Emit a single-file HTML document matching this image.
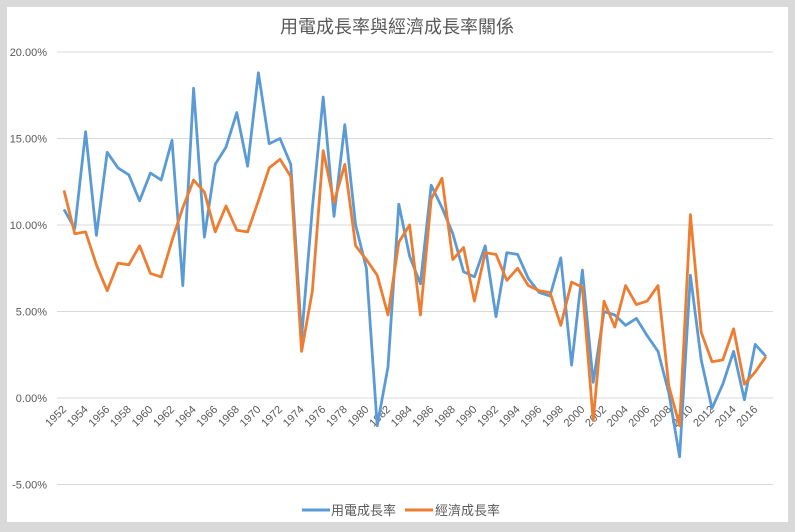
<!DOCTYPE html>
<html><head><meta charset="utf-8"><style>
body{margin:0;background:#d9d9d9;}
svg{display:block;font-family:"Liberation Sans","Noto Sans CJK TC",sans-serif;}
</style></head><body>
<svg width="795" height="532">
<rect x="7" y="7" width="781" height="515" fill="#fff"/>
<text x="397" y="33" text-anchor="middle" font-size="18" fill="#595959">用電成長率與經濟成長率關係</text>
<g id="grid"></g><g id="xlabels"></g><g id="series"></g>
<g>
<g><line x1="302" y1="510" x2="330" y2="510" stroke="#5b9bd5" stroke-width="3"/><text x="331" y="515" font-size="13" fill="#595959">用電成長率</text></g>
<g><line x1="405" y1="510" x2="433" y2="510" stroke="#ed7d31" stroke-width="3"/><text x="435" y="515" font-size="13" fill="#595959">經濟成長率</text></g>
</g>
</svg>
<script>
const years=[];for(let y=1952;y<=2017;y++)years.push(y);
const electricity=[10.9,9.8,15.4,9.4,14.2,13.3,12.9,11.4,13.0,12.6,14.9,6.5,17.9,9.3,13.5,14.5,16.5,13.4,18.8,14.7,15.0,13.5,3.5,11.0,17.4,10.5,15.8,10.0,7.5,-1.6,1.8,11.2,8.2,6.6,12.3,11.0,9.5,7.3,7.0,8.8,4.7,8.4,8.3,6.9,6.1,5.9,8.1,1.9,7.4,0.9,5.0,4.8,4.2,4.6,3.6,2.7,0.3,-3.4,7.1,2.2,-0.6,0.8,2.7,-0.1,3.1,2.4];
const economy=[12.0,9.5,9.6,7.7,6.2,7.8,7.7,8.8,7.2,7.0,9.1,11.0,12.6,11.9,9.6,11.1,9.7,9.6,11.4,13.3,13.8,12.8,2.7,6.2,14.3,11.3,13.5,8.8,8.0,7.1,4.8,9.0,10.0,4.8,11.5,12.7,8.0,8.7,5.6,8.4,8.3,6.8,7.5,6.5,6.2,6.1,4.2,6.7,6.4,-1.3,5.6,4.1,6.5,5.4,5.6,6.5,0.7,-1.6,10.6,3.8,2.1,2.2,4.0,0.8,1.5,2.4];
const yTicks=[20,15,10,5,0,-5];
const yTickLabels=["20.00%","15.00%","10.00%","5.00%","0.00%","-5.00%"];
const NS="http://www.w3.org/2000/svg";
const x=i=>64+i*(702/65);
const y=v=>398-v*17.3;
const grid=document.getElementById('grid');
yTicks.forEach((t,k)=>{
 const l=document.createElementNS(NS,'line');
 l.setAttribute('x1',57);l.setAttribute('x2',773);l.setAttribute('y1',y(t));l.setAttribute('y2',y(t));
 l.setAttribute('stroke','#d9d9d9');l.setAttribute('stroke-width','1');
 
 
 grid.appendChild(l);
 const tx=document.createElementNS(NS,'text');
 tx.setAttribute('x',47);tx.setAttribute('y',y(t)+4);tx.setAttribute('text-anchor','end');
 tx.setAttribute('font-size','11');tx.setAttribute('fill','#595959');tx.textContent=yTickLabels[k];
 
 
 grid.appendChild(tx);
});
const xl=document.getElementById('xlabels');
years.forEach((yr,i)=>{
 if(yr%2)return;
 const t=document.createElementNS(NS,'text');
 const px=x(i)+3,py=410;
 t.setAttribute('x',px);t.setAttribute('y',py);t.setAttribute('text-anchor','end');
 t.setAttribute('font-size','11');t.setAttribute('fill','#595959');
 t.setAttribute('transform',`rotate(-45 ${px} ${py})`);
 t.textContent=yr;
 
 
 xl.appendChild(t);
});
const sg=document.getElementById('series');
[[electricity,'#5b9bd5','electricity-line'],[economy,'#ed7d31','economy-line']].forEach(([d,c,n])=>{
 const p=document.createElementNS(NS,'polyline');
 p.setAttribute('points',d.map((v,i)=>x(i).toFixed(1)+','+y(v).toFixed(1)).join(' '));
 p.setAttribute('fill','none');p.setAttribute('stroke',c);p.setAttribute('stroke-width','2.8');
 p.setAttribute('stroke-linejoin','round');
 
 
 sg.appendChild(p);
});
</script>
</body></html>
